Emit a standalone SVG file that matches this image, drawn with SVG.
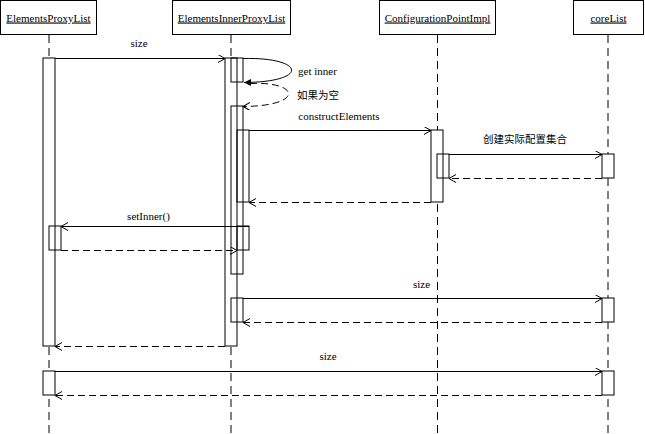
<svg xmlns="http://www.w3.org/2000/svg" width="645" height="434" viewBox="0 0 645 434">
<style>
  .t { font-family: "Liberation Serif", "Times New Roman", serif; font-size: 11px; fill: #000; }
  .cjk { font-family: "Noto Sans CJK SC", "Liberation Serif", serif; font-size: 10.5px; fill: #000; }
  .hdr { text-anchor: middle; text-decoration: underline; }
  .box { fill: #fff; stroke: #000; stroke-width: 1; }
  .life { stroke: #000; stroke-width: 1; stroke-dasharray: 8 5; fill: none; }
  .bg { fill: #fff; stroke: none; }
  .act { fill: none; stroke: #000; stroke-width: 1; }
  .msg { stroke: #000; stroke-width: 1; fill: none; marker-end: url(#open); }
  .ret { stroke: #000; stroke-width: 1; fill: none; stroke-dasharray: 7 4; marker-end: url(#open); }
  .lbl { text-anchor: middle; }
</style>
<defs>
  <marker id="open" markerUnits="userSpaceOnUse" markerWidth="10" markerHeight="10" refX="7" refY="4" orient="auto">
    <path d="M0,0 L7,4 L0,8" fill="none" stroke="#000" stroke-width="1"/>
  </marker>
  <marker id="filled" markerUnits="userSpaceOnUse" markerWidth="10" markerHeight="10" refX="7" refY="3.5" orient="auto">
    <path d="M0,0 L7,3.5 L0,7 Z" fill="#000" stroke="none"/>
  </marker>
</defs>
<rect width="645" height="434" fill="#fff"/>

<g id="lifelines">
  <line class="life" x1="49" y1="35" x2="49" y2="434"/>
  <line class="life" x1="231" y1="35" x2="231" y2="434"/>
  <line class="life" x1="437.5" y1="35" x2="437.5" y2="434"/>
  <line class="life" x1="608" y1="35" x2="608" y2="434"/>
</g>

<g id="ElementsProxyList">
  <rect class="box" x="0.5" y="0.5" width="96" height="34"/>
  <text class="t hdr" x="48.5" y="21.5">ElementsProxyList</text>
</g>
<g id="ElementsInnerProxyList">
  <rect class="box" x="172.5" y="0.5" width="118" height="34"/>
  <text class="t hdr" x="231.5" y="21.5">ElementsInnerProxyList</text>
</g>
<g id="ConfigurationPointImpl">
  <rect class="box" x="379.5" y="0.5" width="116" height="34"/>
  <text class="t hdr" x="437.5" y="21.5">ConfigurationPointImpl</text>
</g>
<g id="coreList">
  <rect class="box" x="573.5" y="0.5" width="70" height="34"/>
  <text class="t hdr" x="608.5" y="21.5">coreList</text>
</g>

<g id="activations">
  <g id="activation-backgrounds">
    <rect class="bg" x="43" y="58" width="12" height="288"/>
    <rect class="bg" x="49" y="226" width="12" height="24"/>
    <rect class="bg" x="43" y="371" width="12" height="24"/>
    <rect class="bg" x="225" y="58" width="12" height="288"/>
    <rect class="bg" x="231" y="58" width="12" height="24"/>
    <rect class="bg" x="231" y="106" width="12" height="168"/>
    <rect class="bg" x="237" y="130" width="12" height="72"/>
    <rect class="bg" x="237" y="226" width="12" height="24"/>
    <rect class="bg" x="231" y="298" width="12" height="24"/>
    <rect class="bg" x="431" y="130" width="12" height="72"/>
    <rect class="bg" x="437" y="154" width="12" height="24"/>
    <rect class="bg" x="602" y="154" width="12" height="24"/>
    <rect class="bg" x="602" y="298" width="12" height="24"/>
    <rect class="bg" x="602" y="371" width="12" height="24"/>
  </g>
  <g id="activation-outlines">
    <rect class="act" x="43" y="58" width="12" height="288"/>
    <rect class="act" x="49" y="226" width="12" height="24"/>
    <rect class="act" x="43" y="371" width="12" height="24"/>
    <rect class="act" x="225" y="58" width="12" height="288"/>
    <rect class="act" x="231" y="58" width="12" height="24"/>
    <rect class="act" x="231" y="106" width="12" height="168"/>
    <rect class="act" x="237" y="130" width="12" height="72"/>
    <rect class="act" x="237" y="226" width="12" height="24"/>
    <rect class="act" x="231" y="298" width="12" height="24"/>
    <rect class="act" x="431" y="130" width="12" height="72"/>
    <rect class="act" x="437" y="154" width="12" height="24"/>
    <rect class="act" x="602" y="154" width="12" height="24"/>
    <rect class="act" x="602" y="298" width="12" height="24"/>
    <rect class="act" x="602" y="371" width="12" height="24"/>
  </g>
</g>

<g id="connectors">
  <line class="msg" x1="55" y1="58.5" x2="225" y2="58.5"/>
  <text class="t lbl" x="139" y="47">size</text>

  <path d="M243,58.5 C305,57 310,82 244,82.5" stroke="#000" stroke-width="1" fill="none" marker-end="url(#filled)"/>
  <text class="t" x="298" y="75">get inner</text>

  <path class="ret" d="M250,83.5 C300,81 305,106 243,106.5"/>
  <text class="cjk" x="297" y="99">如果为空</text>

  <line class="msg" x1="249" y1="130.5" x2="431" y2="130.5"/>
  <text class="t lbl" x="339" y="120">constructElements</text>

  <line class="msg" x1="449" y1="154.5" x2="602" y2="154.5"/>
  <text class="cjk" x="483" y="143">创建实际配置集合</text>
  <line class="ret" x1="602" y1="178.5" x2="449" y2="178.5"/>

  <line class="ret" x1="431" y1="202.5" x2="249" y2="202.5"/>

  <line class="msg" x1="249" y1="226.5" x2="61" y2="226.5"/>
  <text class="t lbl" x="148.5" y="219.5">setInner()</text>
  <line class="ret" x1="61" y1="250.5" x2="237" y2="250.5"/>

  <line class="msg" x1="243" y1="298.5" x2="602" y2="298.5"/>
  <text class="t lbl" x="421.5" y="288">size</text>
  <line class="ret" x1="602" y1="322.5" x2="243" y2="322.5"/>

  <line class="ret" x1="225" y1="346.5" x2="55" y2="346.5"/>

  <line class="msg" x1="55" y1="371.5" x2="602" y2="371.5"/>
  <text class="t lbl" x="328" y="360">size</text>
  <line class="ret" x1="602" y1="395.5" x2="55" y2="395.5"/>
</g>
</svg>
